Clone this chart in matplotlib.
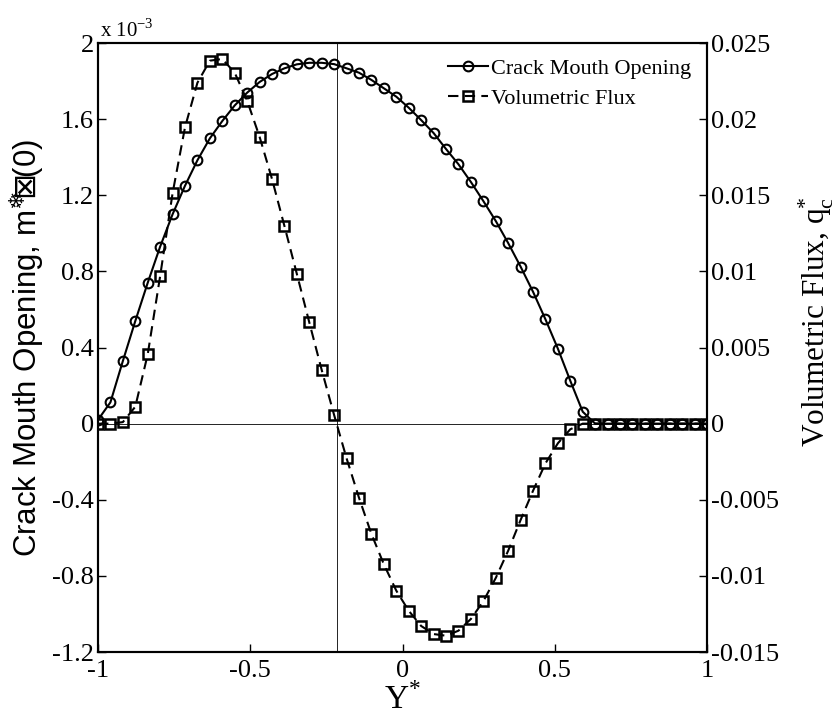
import matplotlib.pyplot as plt
import numpy as np

plt.rcParams['axes.unicode_minus'] = False

# Y* positions (50 evenly spaced stations on [-1, 1])
y_star = np.linspace(-1, 1, 50)

# crack mouth opening, in units of 1e-3
cmo = [0.02, 0.112, 0.329, 0.539, 0.740, 0.930, 1.100, 1.250, 1.384, 1.499,
       1.590, 1.672, 1.739, 1.795, 1.837, 1.867, 1.888, 1.896, 1.896, 1.889,
       1.867, 1.844, 1.806, 1.762, 1.718, 1.660, 1.595, 1.527, 1.443, 1.363,
       1.270, 1.170, 1.065, 0.949, 0.825, 0.693, 0.548, 0.394, 0.225, 0.0625,
       0, 0, 0, 0, 0, 0, 0, 0, 0, 0]

# volumetric flux q_c*
flux = [0, 0, 0.0001, 0.00111, 0.00455, 0.00969, 0.01513, 0.01946, 0.02239, 0.02384,
        0.02395, 0.02305, 0.02121, 0.01884, 0.01607, 0.01298, 0.00983, 0.00665, 0.00352, 0.00056,
        -0.00228, -0.00487, -0.00725, -0.00924, -0.01097, -0.01229, -0.01329, -0.01382, -0.01393, -0.01360,
        -0.01283, -0.01167, -0.01014, -0.00835, -0.00633, -0.00441, -0.00261, -0.00129, -0.00037, 0,
        0, 0, 0, 0, 0, 0, 0, 0, 0, 0]

y_zero_flux = -0.215

left_ticks = [-1.2, -0.8, -0.4, 0, 0.4, 0.8, 1.2, 1.6, 2]
left_labels = ['-1.2', '-0.8', '-0.4', '0', '0.4', '0.8', '1.2', '1.6', '2']
right_ticks = [-0.015, -0.01, -0.005, 0, 0.005, 0.01, 0.015, 0.02, 0.025]
right_labels = ['-0.015', '-0.01', '-0.005', '0', '0.005', '0.01', '0.015', '0.02', '0.025']
x_ticks = [-1, -0.5, 0, 0.5, 1]
x_labels = ['-1', '-0.5', '0', '0.5', '1']

serif = 'Liberation Serif'
sans = ['Liberation Sans', 'DejaVu Sans']

fig = plt.figure(figsize=(8.39, 7.18), dpi=100)
ax = fig.add_axes([0.1168, 0.0919, 0.7259, 0.8482])
ax2 = ax.twinx()

ax.axhline(0, color='black', lw=0.6, zorder=1)
ax.axvline(y_zero_flux, color='black', lw=0.6, zorder=1)

l1, = ax.plot(y_star, cmo, '-o', color='black', lw=1.5, ms=7,
              mfc='none', mew=1.5, label='Crack Mouth Opening')
l2, = ax2.plot(y_star, flux, '--s', color='black', lw=1.5, ms=7,
               mfc='none', mew=1.8, dashes=(5, 3), label='Volumetric Flux')

ax.set_xlim(-1, 1)
ax.set_ylim(-1.2, 2)
ax2.set_ylim(-0.015, 0.025)

ax.set_xticks(x_ticks)
ax.set_xticklabels(x_labels, fontsize=19, family=serif)
ax.set_yticks(left_ticks)
ax.set_yticklabels(left_labels, fontsize=19, family=serif)
ax2.set_yticks(right_ticks)
ax2.set_yticklabels(right_labels, fontsize=19, family=serif)

ax.tick_params(axis='both', direction='in', length=6, width=1, pad=3)
ax.tick_params(axis='x', pad=6)
ax2.tick_params(axis='y', direction='in', length=6, width=1, pad=3)
for a in (ax, ax2):
    for s in a.spines.values():
        s.set_linewidth(1.5)

ax.text(-0.995, 2.008, r'x 10$^{\mathregular{-3}}$', fontsize=15, family=serif,
        ha='left', va='bottom')

ax.set_xlabel(r'Y$^{\mathregular{*}}$', fontsize=24, family=serif, labelpad=1)
ax.set_ylabel('Crack Mouth Opening, m$^{\u2744}\\!\\!\\!\\boxtimes\\!\\!$(0)',
              fontsize=22.5, family=sans, labelpad=4)
ax2.set_ylabel(r'Volumetric Flux, q$_{\mathregular{c}}^{\mathregular{*}}$',
               fontsize=22.5, family=serif, labelpad=10)
ax2.yaxis.set_label_coords(1.147, 0.542)

ax2.legend(handles=[l1, l2], loc='upper right', frameon=False,
           prop={'family': serif, 'size': 16}, numpoints=1, handlelength=1.8,
           handletextpad=0.15, borderaxespad=0.3, labelspacing=0.4)

fig.savefig('out.png', dpi=100)
